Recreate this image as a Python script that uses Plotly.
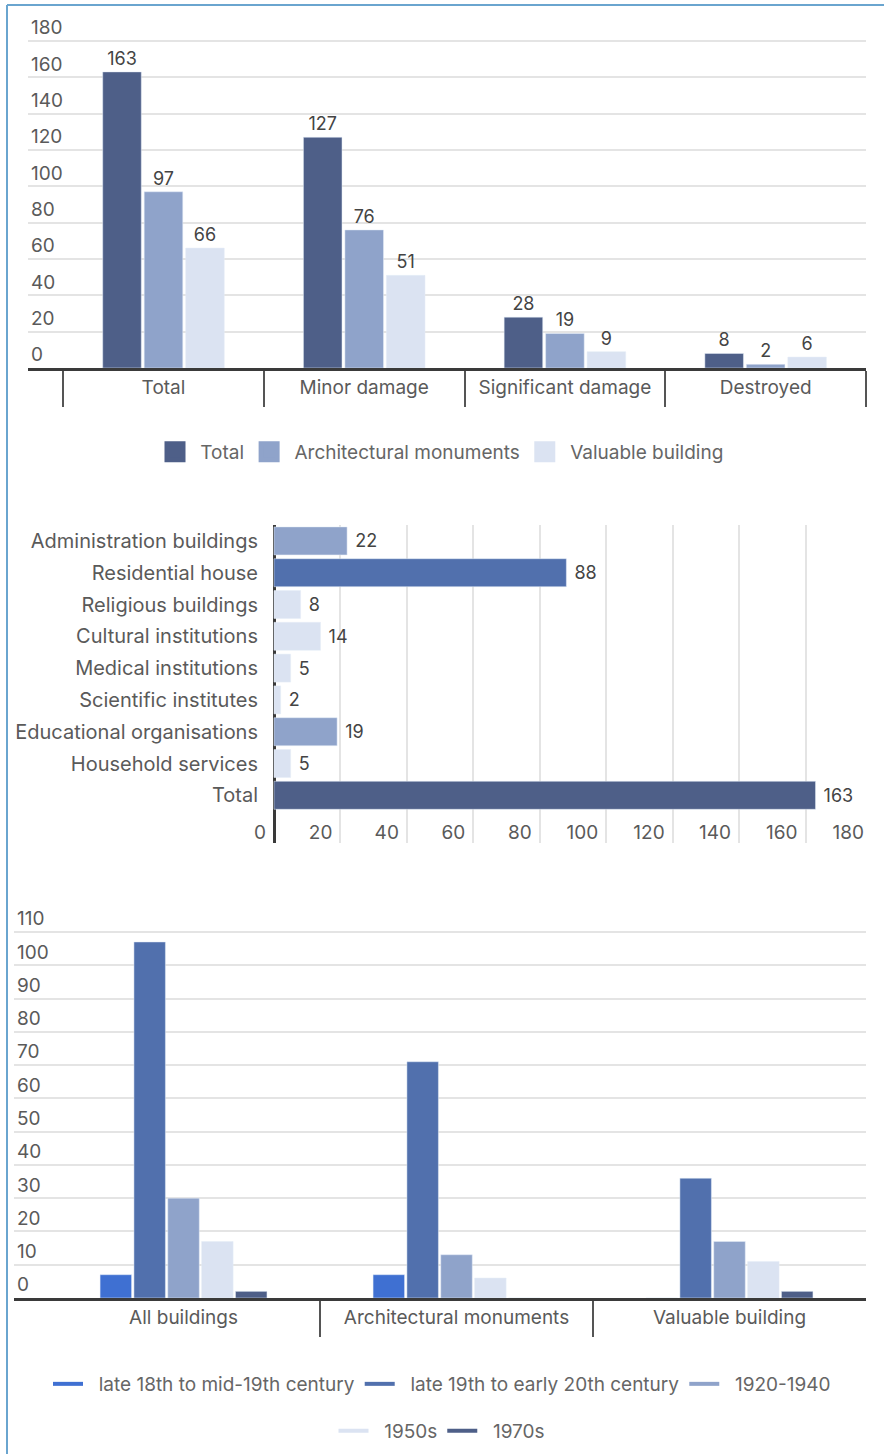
import plotly.graph_objects as go

W, H = 884, 1454

# ---------------- Data ----------------
# Chart 1: damage by category
damage_categories = ["Total", "Minor damage", "Significant damage", "Destroyed"]
damage_series_names = ["Total", "Architectural monuments", "Valuable building"]
damage_total = [163, 127, 28, 8]
damage_arch = [97, 76, 19, 2]
damage_valuable = [66, 51, 9, 6]

# Chart 2: damaged buildings by type
type_categories = ["Administration buildings", "Residential house", "Religious buildings",
                   "Cultural institutions", "Medical institutions", "Scientific institutes",
                   "Educational organisations", "Household services", "Total"]
type_values = [22, 88, 8, 14, 5, 2, 19, 5, 163]

# Chart 3: damaged buildings by construction period
period_categories = ["All buildings", "Architectural monuments", "Valuable building"]
period_names = ["late 18th to mid-19th century", "late 19th to early 20th century",
                "1920-1940", "1950s", "1970s"]
period_late18 = [7, 7, 0]
period_late19 = [107, 71, 36]
period_1920_40 = [30, 13, 17]
period_1950s = [17, 6, 11]
period_1970s = [2, 0, 2]

# ---------------- Styles ----------------
DARK = "#4e5f88"
BLUE = "#5170ad"
MED = "#8fa3ca"
LIGHT = "#dbe3f2"
BRIGHT = "#3f70d2"
GRID = "#e4e4e4"
AXIS = "#3a3a3a"
FONT = "Inter, 'Open Sans', sans-serif"
TICKFONT = dict(family=FONT, size=19, color="#5a5a5a")
VALFONT = dict(family=FONT, size=18, color="#444444")
LEGFONT = dict(family=FONT, size=19, color="#666666")
PAD = "\u00a0\u00a0"

type_colors = [MED, BLUE, LIGHT, LIGHT, LIGHT, LIGHT, MED, LIGHT, DARK]


def fx(px):
    return px / W


def fy(px):
    return 1 - px / H


fig = go.Figure()

# ---- Chart 1 ----
for name, vals, col in zip(damage_series_names,
                           [damage_total, damage_arch, damage_valuable],
                           [DARK, MED, LIGHT]):
    fig.add_trace(go.Bar(x=damage_categories, y=vals, name=name, marker_color=col,
                         text=vals, textposition="outside", textfont=VALFONT,
                         cliponaxis=False, showlegend=False, xaxis="x", yaxis="y",
                         hoverinfo="x+y+name"))
for name, col in zip(damage_series_names, [DARK, MED, LIGHT]):
    fig.add_trace(go.Scatter(x=[None], y=[None], mode="markers", name="\u00a0" + name,
                             marker=dict(symbol="square", size=16, color=col,
                                         line=dict(color=col, width=5)),
                             legend="legend", xaxis="x", yaxis="y"))

# ---- Chart 2 ----
fig.add_trace(go.Bar(x=type_values, y=type_categories, orientation="h",
                     marker_color=type_colors, width=0.88, text=type_values,
                     texttemplate="\u00a0%{x}",
                     textposition="outside", textfont=VALFONT, cliponaxis=False,
                     showlegend=False, xaxis="x2", yaxis="y2"))

# ---- Chart 3 ----
period_series = [period_late18, period_late19, period_1920_40, period_1950s, period_1970s]
period_colors = [BRIGHT, BLUE, MED, LIGHT, DARK]
for name, vals, col in zip(period_names, period_series, period_colors):
    fig.add_trace(go.Bar(x=period_categories, y=vals, name=name, marker_color=col,
                         showlegend=False, xaxis="x3", yaxis="y3"))
for i, (name, col) in enumerate(zip(period_names, period_colors)):
    fig.add_trace(go.Scatter(x=[None], y=[None], mode="lines", name=PAD + name,
                             line=dict(color=col, width=4),
                             legend="legend2" if i < 3 else "legend3",
                             xaxis="x3", yaxis="y3"))

cat_xaxis = dict(type="category", showline=True, linecolor=AXIS, linewidth=3,
                 ticks="outside", tickson="boundaries", ticklen=36, tickwidth=1.5,
                 tickcolor="#555555", tickfont=TICKFONT, ticklabelstandoff=0,
                 showgrid=False, zeroline=False, fixedrange=True)
val_yaxis = dict(tick0=0, showgrid=True, gridcolor=GRID, gridwidth=1.5,
                 ticklabelposition="inside top", tickfont=TICKFONT, zeroline=False,
                 showline=False, ticks="", fixedrange=True)

fig.update_layout(
    width=W, height=H,
    margin=dict(l=0, r=0, t=0, b=0),
    paper_bgcolor="white", plot_bgcolor="white",
    font=dict(family=FONT, color="#555555"),
    barmode="group", bargap=0.38, bargroupgap=0.07,
    xaxis=dict(cat_xaxis, domain=[fx(28), fx(866)], anchor="y",
               categoryorder="array", categoryarray=damage_categories,
               range=[-0.675, 3.5]),
    yaxis=dict(val_yaxis, domain=[fy(368), fy(8)], anchor="x",
               range=[0, (368 - 8) / (327 / 180)], dtick=20),
    xaxis2=dict(domain=[fx(247), fx(872)], anchor="y2", range=[-(274 - 247) / (598 / 180), 180],
                tick0=0, dtick=20, showgrid=True, gridcolor=GRID, gridwidth=1.5,
                zeroline=True, zerolinecolor=AXIS, zerolinewidth=3,
                ticklabelposition="inside left", tickfont=TICKFONT,
                ticklabelshift=-8, ticklabelstandoff=-6,
                showline=False, ticks="", fixedrange=True),
    yaxis2=dict(domain=[fy(843), fy(525)], anchor="x2", type="category",
                categoryorder="array", categoryarray=type_categories,
                range=[9.5, -0.5], tickfont=dict(family=FONT, size=20, color="#5a5a5a"),
                ticks="", showgrid=False, zeroline=False, showline=False,
                ticklabelstandoff=-12, fixedrange=True),
    xaxis3=dict(cat_xaxis, domain=[fx(14), fx(866)], anchor="y3",
                categoryorder="array", categoryarray=period_categories,
                range=[-0.621, 2.5]),
    yaxis3=dict(val_yaxis, domain=[fy(1298), fy(900)], anchor="x3",
                range=[0, (1298 - 900) / (366 / 110)], dtick=10),
    legend=dict(x=0.5, y=fy(452), xanchor="center", yanchor="middle",
                orientation="h", font=LEGFONT, bgcolor="rgba(0,0,0,0)"),
    legend2=dict(x=0.5, y=fy(1384), xanchor="center", yanchor="middle",
                 orientation="h", font=LEGFONT, bgcolor="rgba(0,0,0,0)"),
    legend3=dict(x=0.5, y=fy(1431), xanchor="center", yanchor="middle",
                 orientation="h", font=LEGFONT, bgcolor="rgba(0,0,0,0)"),
    shapes=[
        dict(type="line", xref="paper", yref="paper", x0=fx(7), x1=1, y0=fy(5), y1=fy(5),
             line=dict(color="#6aa5cf", width=2)),
        dict(type="line", xref="paper", yref="paper", x0=fx(7), x1=fx(7), y0=fy(5), y1=0,
             line=dict(color="#6aa5cf", width=2)),
    ],
)

fig.write_html("out.html")
